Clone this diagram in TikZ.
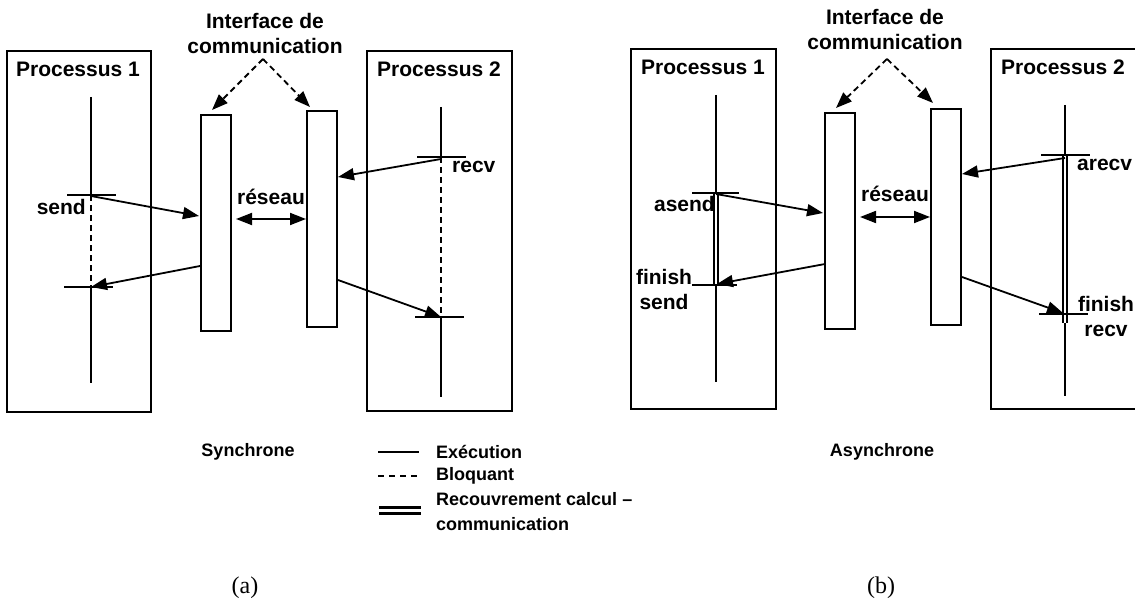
\documentclass[tikz,border=0pt]{standalone}
\usepackage{fontspec}
\setmainfont{Liberation Sans}
\newfontfamily\serifed{Liberation Serif}
\usetikzlibrary{arrows.meta}
\begin{document}
\begin{tikzpicture}[x=1pt,y=-1pt,
  procbox/.style={draw, line width=2.2pt, inner sep=0pt},
  ifbox/.style={draw, line width=2.2pt, inner sep=0pt, minimum width=30pt},
  lbl/.style={font=\fontsize{21}{25}\selectfont\bfseries, inner sep=0pt, align=center},
  small/.style={font=\fontsize{18}{25}\selectfont\bfseries, inner sep=0pt, align=left},
  figcap/.style={font=\fontsize{24}{28}\selectfont\serifed, inner sep=0pt},
  tl/.style={line width=1.8pt},
  blk/.style={line width=1.8pt, dash pattern=on 6pt off 4pt},
  ovl/.style={double, line width=1.9pt, double distance=2pt},
  arr/.style={line width=1.8pt, -{Triangle[length=16pt,width=12pt]}},
  darr/.style={line width=1.8pt, {Triangle[length=16pt,width=12pt]}-{Triangle[length=16pt,width=12pt]}},
  ifarr/.style={line width=1.8pt, dash pattern=on 6pt off 4pt, -{Triangle[length=16pt,width=12pt]}},
]
\useasboundingbox (0,0) rectangle (1135,604);

% ================= (a) Synchrone =================
\node[procbox, minimum width=144pt, minimum height=361pt] (pa1) at (79,231.5) {};
\node[procbox, minimum width=145pt, minimum height=360pt] (pa2) at (439.5,231) {};
\node[lbl] (pa1t) at (78,69) {Processus 1};
\node[lbl] (pa2t) at (439,69) {Processus 2};
\node[ifbox, minimum height=216pt] (ia1) at (216,223) {};
\node[ifbox, minimum height=216pt] (ia2) at (322,219) {};
\node[lbl] (iat) at (265,33) {Interface de\\communication};
\node[lbl] (rea) at (271,197) {réseau};

% timelines
\coordinate (a1top) at (91,97);
\coordinate (a1s) at (91,195);
\coordinate (a1f) at (91,287);
\coordinate (a1bot) at (91,383);
\draw[tl] (a1top) -- (a1s);
\draw[blk] (a1s) -- (a1f);
\draw[tl] (a1f) -- (a1bot);
\draw[tl] (67,195) -- (116,195);
\draw[tl] (64,287) -- (113,287);
\node[lbl, anchor=east] (sendl) at (86,207) {send};

\coordinate (a2top) at (441,107);
\coordinate (a2r) at (441,157);
\coordinate (a2f) at (441,317);
\coordinate (a2bot) at (441,397);
\draw[tl] (a2top) -- (a2r);
\draw[blk] (a2r) -- (a2f);
\draw[tl] (a2f) -- (a2bot);
\draw[tl] (417,157) -- (466,157);
\draw[tl] (415,317) -- (464,317);
\node[lbl, anchor=west] (recvl) at (452,167) {recv};

% arrows (a)
\coordinate (a1o) at (91,196);
\coordinate (ia1in) at (199,216);
\coordinate (ia1out) at (200,266);
\coordinate (a2o) at (441,159);
\coordinate (ia2in) at (338,177);
\coordinate (ia2out) at (338,280);
\coordinate (iasrc) at (263,59);
\draw[arr] (a1o) -- (ia1in);
\draw[arr] (ia1out) -- (a1f);
\draw[arr] (a2o) -- (ia2in);
\draw[arr] (ia2out) -- (a2f);
\draw[darr] (236,219) -- (306,219);
\draw[ifarr] (iasrc) -- (212,110);
\draw[ifarr] (iasrc) -- (310,107);

% ================= (b) Asynchrone =================
\node[procbox, minimum width=145pt, minimum height=360pt] (pb1) at (703.5,229) {};
\node[procbox, minimum width=145pt, minimum height=360pt] (pb2) at (1063.5,229) {};
\node[lbl] (pb1t) at (703,67) {Processus 1};
\node[lbl] (pb2t) at (1063,67) {Processus 2};
\node[ifbox, minimum height=216pt] (ib1) at (840,221) {};
\node[ifbox, minimum height=216pt] (ib2) at (946,217) {};
\node[lbl] (ibt) at (885,29) {Interface de\\communication};
\node[lbl] (reb) at (895,194) {réseau};

\coordinate (b1top) at (716,95);
\coordinate (b1s) at (716,193);
\coordinate (b1f) at (716,285);
\coordinate (b1bot) at (716,382);
\draw[tl] (b1top) -- (b1s);
\draw[ovl] (b1s) -- (b1f);
\draw[tl] (b1f) -- (b1bot);
\draw[tl] (692,193) -- (739,193);
\draw[tl] (692,285) -- (737,285);
\node[lbl, anchor=east] (asendl) at (715,204) {asend};
\node[lbl] (fsendl) at (664,289) {finish\\send};

\coordinate (b2top) at (1065,105);
\coordinate (b2r) at (1065,155);
\coordinate (b2f) at (1065,314);
\coordinate (b2e) at (1065,323);
\coordinate (b2bot) at (1065,396);
\draw[tl] (b2top) -- (b2r);
\draw[ovl] (b2r) -- (b2e);
\draw[tl] (b2e) -- (b2bot);
\draw[tl] (1041,155) -- (1090,155);
\draw[tl] (1039,314) -- (1088,314);
\node[lbl, anchor=west] (arecvl) at (1077,165) {arecv};
\node[lbl] (frecvl) at (1106,316) {finish\\recv};

\coordinate (b1o) at (716,194);
\coordinate (ib1in) at (823,213);
\coordinate (ib1out) at (825,264);
\coordinate (b1in) at (717,284);
\coordinate (b2o) at (1065,158);
\coordinate (ib2in) at (962,174);
\coordinate (ib2out) at (962,277);
\coordinate (b2in) at (1063,313);
\coordinate (ibsrc) at (887,59);
\draw[arr] (b1o) -- (ib1in);
\draw[arr] (ib1out) -- (b1in);
\draw[arr] (b2o) -- (ib2in);
\draw[arr] (ib2out) -- (b2in);
\draw[darr] (860,217) -- (930,217);
\draw[ifarr] (ibsrc) -- (836,108);
\draw[ifarr] (ibsrc) -- (933,103);

% ================= bottom =================
\node[small] (synch) at (248,452) {Synchrone};
\node[small] (asynch) at (882,452) {Asynchrone};
\draw[line width=1.8pt] (378,452) -- (419,452);
\draw[line width=1.8pt, dash pattern=on 6pt off 5pt] (378,476) -- (420,476);
\draw[double, line width=2.8pt, double distance=3.5pt] (379,510.5) -- (421,510.5);
\node[small, anchor=west] (lg1) at (436,452) {Exécution};
\node[small, anchor=west] (lg2) at (436,476) {Bloquant};
\node[small, anchor=north west] (lg3) at (436,492) {Recouvrement calcul –\\communication};
\node[figcap] (capa) at (245,588) {(a)};
\node[figcap] (capb) at (881,588) {(b)};
\end{tikzpicture}
\end{document}
